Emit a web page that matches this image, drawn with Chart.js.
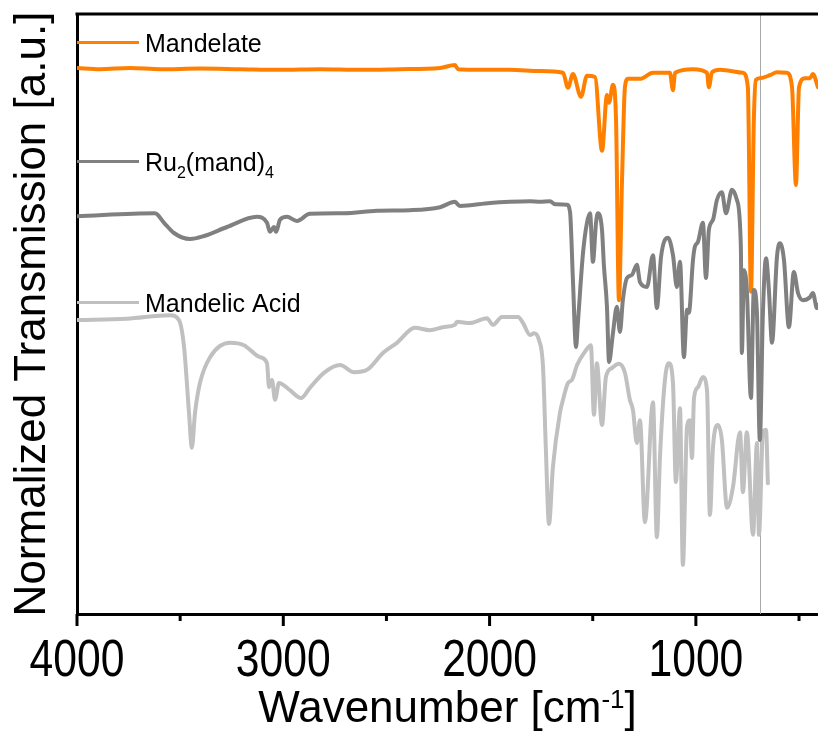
<!DOCTYPE html>
<html>
<head>
<meta charset="utf-8">
<title>FTIR spectra</title>
<script src="https://cdn.jsdelivr.net/npm/chart.js@4.4.0/dist/chart.umd.min.js"></script>
<style>
  html, body { margin: 0; padding: 0; background: #fff; }
  #chart { display: block; }
</style>
</head>
<body>
<canvas id="chart" width="818" height="744"></canvas>
<script>
// wavenumbers in cm-1, transmission normalized and stacked (a.u.)
const mandelateWn = [4000, 3889, 3743, 3598, 3404, 3210, 3016, 2822, 2628, 2434, 2240, 2168, 2153, 2047, 1901, 1756, 1644, 1620, 1596, 1557, 1528, 1489, 1455, 1431, 1421, 1402, 1387, 1373, 1358, 1344, 1329, 1271, 1208, 1126, 1111, 1101, 1014, 946, 937, 922, 883, 772, 748, 733, 719, 709, 690, 641, 607, 559, 534, 515, 500, 471, 447, 433, 408];
const mandelateT = [91.0, 90.8, 91.0, 90.8, 90.9, 90.8, 90.7, 90.8, 90.7, 90.8, 91.0, 91.5, 90.8, 90.7, 90.7, 90.5, 90.2, 87.7, 90.0, 86.2, 89.7, 89.5, 77.2, 86.5, 85.2, 88.2, 82.3, 52.3, 72.3, 87.8, 89.2, 89.2, 90.2, 90.2, 87.3, 90.2, 90.8, 90.2, 87.8, 90.3, 90.7, 90.2, 87.8, 53.7, 82.3, 89.0, 89.3, 89.8, 90.3, 90.2, 87.8, 71.5, 87.8, 89.3, 89.3, 90.0, 87.8];

const ruWn = [4000, 3622, 3578, 3530, 3452, 3384, 3273, 3128, 3079, 3065, 3045, 3035, 3016, 2982, 2934, 2871, 2706, 2546, 2386, 2240, 2168, 2144, 1998, 1901, 1804, 1756, 1707, 1683, 1625, 1610, 1596, 1581, 1572, 1547, 1528, 1513, 1499, 1484, 1475, 1455, 1446, 1431, 1421, 1402, 1383, 1368, 1354, 1334, 1310, 1286, 1271, 1237, 1208, 1189, 1169, 1135, 1111, 1092, 1077, 1058, 1043, 1034, 1014, 1005, 990, 966, 951, 937, 917, 898, 874, 854, 825, 801, 782, 777, 767, 753, 733, 719, 704, 690, 675, 660, 646, 631, 607, 593, 573, 549, 525, 505, 481, 447, 433, 413, 408];
const ruT = [66.3, 66.8, 65.2, 63.5, 62.5, 63.0, 64.5, 66.2, 65.2, 63.7, 64.5, 63.7, 65.7, 66.2, 65.5, 66.7, 66.8, 67.2, 67.3, 67.8, 68.7, 68.0, 68.5, 68.7, 68.8, 68.7, 68.8, 68.3, 68.2, 67.0, 55.7, 44.5, 48.5, 60.2, 65.2, 66.8, 58.7, 65.2, 66.8, 64.0, 58.2, 51.2, 42.0, 46.8, 51.2, 47.0, 52.3, 56.0, 56.5, 58.2, 55.3, 54.5, 59.8, 51.0, 59.5, 62.7, 59.8, 54.5, 58.7, 42.8, 50.7, 50.2, 59.0, 61.2, 62.0, 65.2, 56.0, 64.0, 65.7, 69.0, 70.3, 66.8, 70.7, 69.0, 61.2, 43.5, 57.3, 54.0, 36.0, 54.0, 50.2, 29.0, 50.2, 59.3, 54.0, 45.2, 59.5, 61.8, 59.0, 47.8, 57.0, 53.5, 52.3, 52.8, 53.5, 51.0, 51.5];

const acidWn = [4000, 3758, 3549, 3506, 3481, 3457, 3443, 3428, 3404, 3355, 3258, 3191, 3113, 3079, 3069, 3055, 3040, 3021, 2968, 2914, 2871, 2803, 2725, 2657, 2594, 2517, 2449, 2362, 2289, 2226, 2168, 2158, 2095, 2013, 1984, 1940, 1862, 1838, 1804, 1785, 1761, 1741, 1727, 1712, 1693, 1659, 1644, 1620, 1601, 1576, 1538, 1509, 1494, 1480, 1455, 1436, 1407, 1373, 1344, 1320, 1305, 1286, 1271, 1247, 1208, 1189, 1174, 1150, 1131, 1111, 1097, 1077, 1063, 1043, 1029, 1019, 1009, 990, 966, 946, 932, 917, 893, 874, 849, 820, 786, 772, 753, 723, 704, 694, 675, 660, 651];
const acidT = [49.0, 49.2, 49.8, 49.0, 44.5, 33.5, 27.7, 33.5, 38.5, 42.8, 45.2, 44.8, 42.8, 41.8, 37.8, 39.0, 35.7, 38.5, 37.3, 36.0, 37.7, 40.2, 41.5, 40.3, 40.7, 43.5, 45.2, 47.7, 47.3, 47.8, 48.2, 48.7, 48.5, 49.3, 48.2, 49.5, 49.5, 48.5, 46.5, 46.8, 45.7, 41.2, 27.3, 15.0, 24.5, 33.5, 35.7, 38.5, 39.0, 41.5, 43.7, 44.8, 33.2, 41.8, 31.5, 39.5, 41.0, 41.7, 40.2, 35.7, 34.0, 28.5, 32.3, 15.3, 35.3, 12.8, 26.2, 39.0, 41.8, 38.5, 22.0, 34.3, 8.2, 31.2, 32.3, 26.0, 36.0, 37.8, 39.5, 37.3, 16.5, 27.8, 31.5, 29.0, 17.7, 21.2, 30.3, 20.3, 30.3, 13.2, 28.5, 13.2, 30.3, 30.7, 21.8];

const seriesNames = ['Mandelate', 'Ru2(mand)4', 'Mandelic Acid'];
const xTicks = [4000, 3500, 3000, 2500, 2000, 1500, 1000, 500];
const markerWn = 690;

const FONT = "'Liberation Sans', Arial, Helvetica, sans-serif";
Chart.defaults.font.family = FONT;
Chart.defaults.color = '#000';

const toPoints = (xs, ys) => xs.map((v, i) => ({ x: v, y: ys[i] }));
const tickText = v => (v % 1000 === 0 ? String(v) : '');

// split a formula into plain text and subscript digits, e.g. Ru2(mand)4
function formulaParts(txt) {
  const parts = [];
  const re = /(\d+)|([^\d]+)/g;
  let m;
  while ((m = re.exec(txt))) {
    parts.push(m[1] ? { t: m[1], sub: true } : { t: m[2], sub: false });
  }
  return parts;
}

const decor = {
  id: 'decor',
  beforeDatasetsDraw(chart, args, opts) {
    const { ctx, chartArea: a, scales: { x } } = chart;
    const px = Math.round(x.getPixelForValue(opts.marker)) + 0.5;
    ctx.save();
    ctx.strokeStyle = '#a8a8a8';
    ctx.lineWidth = 1;
    ctx.beginPath();
    ctx.moveTo(px, a.top);
    ctx.lineTo(px, a.bottom);
    ctx.stroke();
    ctx.restore();
  },
  afterDraw(chart, args, opts) {
    const { ctx, chartArea: a, scales: { x, y } } = chart;
    ctx.save();

    // top edge of the frame
    ctx.strokeStyle = '#000';
    ctx.lineWidth = 3;
    ctx.beginPath();
    ctx.moveTo(a.left - 1.5, a.top);
    ctx.lineTo(a.right, a.top);
    ctx.stroke();

    // major / minor ticks, condensed tick labels
    ctx.fillStyle = '#000';
    ctx.textAlign = 'center';
    ctx.textBaseline = 'alphabetic';
    x.ticks.forEach(t => {
      const px = x.getPixelForValue(t.value);
      const len = t.value % 1000 === 0 ? 12 : 7;
      ctx.beginPath();
      ctx.moveTo(px, a.bottom);
      ctx.lineTo(px, a.bottom + len);
      ctx.stroke();
      const txt = tickText(t.value);
      if (txt) {
        ctx.save();
        ctx.translate(px, a.bottom + 62);
        ctx.scale(0.82, 1);
        ctx.font = '52px ' + FONT;
        ctx.fillText(txt, 0, 0);
        ctx.restore();
      }
    });
    ctx.textAlign = 'left';

    // series labels next to each trace
    chart.data.datasets.forEach((ds, i) => {
      const ly = Math.round(y.getPixelForValue(opts.levels[i])) + 0.5;
      ctx.strokeStyle = ds.borderColor;
      ctx.lineWidth = 3;
      ctx.beginPath();
      ctx.moveTo(a.left, ly);
      ctx.lineTo(a.left + 62, ly);
      ctx.stroke();
      let tx = a.left + 68;
      ctx.fillStyle = '#000';
      formulaParts(ds.label).forEach(p => {
        ctx.font = (p.sub ? '16px ' : '25px ') + FONT;
        ctx.fillText(p.t, tx, ly + 9 + (p.sub ? 7 : 0));
        tx += ctx.measureText(p.t).width;
      });
    });

    // x axis title with superscript
    const main = 'Wavenumber [cm', sup = '-1', tail = ']';
    ctx.font = '44px ' + FONT;
    const w1 = ctx.measureText(main).width, w3 = ctx.measureText(tail).width;
    ctx.font = '26px ' + FONT;
    const w2 = ctx.measureText(sup).width;
    let sx = (a.left + a.right) / 2 - (w1 + w2 + w3) / 2;
    const base = a.bottom + 108;
    ctx.font = '44px ' + FONT;
    ctx.fillText(main, sx, base);
    sx += w1;
    ctx.font = '26px ' + FONT;
    ctx.fillText(sup, sx, base - 14);
    sx += w2;
    ctx.font = '44px ' + FONT;
    ctx.fillText(tail, sx, base);
    ctx.restore();
  }
};

const line = (label, xs, ys, color, order) => ({
  label,
  data: toPoints(xs, ys),
  borderColor: color,
  borderWidth: 4,
  pointRadius: 0,
  cubicInterpolationMode: 'monotone',
  borderJoinStyle: 'round',
  borderCapStyle: 'round',
  fill: false,
  order
});

new Chart(document.getElementById('chart'), {
  type: 'line',
  data: {
    datasets: [
      line(seriesNames[0], mandelateWn, mandelateT, '#ff8000', 2),
      line(seriesNames[1], ruWn, ruT, '#808080', 0),
      line(seriesNames[2], acidWn, acidT, '#c0c0c0', 1)
    ]
  },
  options: {
    responsive: false,
    devicePixelRatio: 1,
    animation: false,
    layout: { padding: { top: 14, right: 0, bottom: 0, left: 0 } },
    plugins: {
      legend: { display: false },
      tooltip: { enabled: false },
      decor: { marker: markerWn, levels: [95.3, 75.5, 52.0] }
    },
    scales: {
      x: {
        type: 'linear',
        reverse: true,
        min: 408,
        max: 4000,
        afterBuildTicks: s => { s.ticks = xTicks.map(v => ({ value: v })); },
        afterFit: s => { s.height = 130; },
        grid: { display: true, drawOnChartArea: false, drawTicks: false },
        border: { display: true, color: '#000', width: 3 },
        ticks: { display: false, autoSkip: false, callback: tickText }
      },
      y: {
        min: 0,
        max: 100,
        afterFit: s => { s.width = 77; },
        grid: { display: false },
        border: { display: true, color: '#000', width: 3 },
        ticks: { display: false },
        title: {
          display: true,
          text: 'Normalized Transmission [a.u.]',
          font: { size: 44 },
          color: '#000',
          padding: { top: 6, bottom: 0 }
        }
      }
    }
  },
  plugins: [decor]
});
</script>
</body>
</html>
